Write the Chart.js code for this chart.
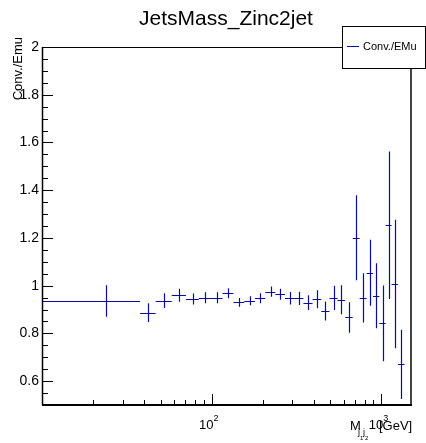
<!DOCTYPE html>
<html>
<head>
<meta charset="utf-8">
<title>JetsMass_Zinc2jet</title>
<script src="https://cdn.jsdelivr.net/npm/chart.js@4.4.1/dist/chart.umd.min.js"></script>
<style>
  html, body { margin: 0; padding: 0; background: #fff; }
  #wrap { width: 426px; height: 443px; }
</style>
</head>
<body>
<div id="wrap"><canvas id="myChart" width="426" height="443"></canvas></div>
<script>
// bin edges of the dijet mass (GeV) and the Conv./EMu ratio per bin
const binEdges = [10, 37.9, 46.8, 58.2, 70.7, 84.1, 99.1, 116, 134.7, 156, 180.3, 207.6, 237.8,
  271, 307, 348, 394, 443.5, 496, 553, 614, 680, 747, 820, 896, 976, 1063, 1153, 1255, 1375];
const ratio = [0.936, 0.887, 0.937, 0.960, 0.944, 0.949, 0.949, 0.968, 0.930, 0.937, 0.947, 0.975,
  0.964, 0.947, 0.947, 0.929, 0.943, 0.894, 0.949, 0.941, 0.867, 1.201, 0.949, 1.054, 0.958,
  0.842, 1.253, 1.007, 0.670];
const ratioErr = [0.066, 0.039, 0.031, 0.027, 0.023, 0.023, 0.023, 0.021, 0.018, 0.019, 0.021,
  0.021, 0.023, 0.026, 0.028, 0.031, 0.038, 0.040, 0.051, 0.061, 0.064, 0.178, 0.103, 0.138,
  0.136, 0.159, 0.309, 0.269, 0.145];

const yTicks = [0.6, 0.8, 1, 1.2, 1.4, 1.6, 1.8, 2];
const yTickLabels = ['0.6', '0.8', '1', '1.2', '1.4', '1.6', '1.8', '2'];
const xTicks = [100, 1000];
const xTickExp = ['2', '3'];

const FONT = '"Liberation Sans", Arial, sans-serif';
const markColor = 'rgb(10,10,160)';

const points = ratio.map((r, i) => ({
  x: (binEdges[i] + binEdges[i + 1]) / 2,
  y: r,
  lo: binEdges[i],
  hi: binEdges[i + 1],
  err: ratioErr[i]
}));

const px = v => Math.round(v) + 0.5;

const rootStyle = {
  id: 'rootStyle',
  afterDatasetsDraw(chart) {
    const { ctx, chartArea: a, scales: { x, y } } = chart;
    ctx.save();
    ctx.beginPath();
    ctx.rect(a.left, a.top, a.right - a.left, a.bottom - a.top);
    ctx.clip();
    ctx.strokeStyle = markColor;
    ctx.lineWidth = 1.2;
    chart.data.datasets[0].data.forEach(p => {
      const yc = px(y.getPixelForValue(p.y));
      const xc = px(x.getPixelForValue(p.x));
      ctx.beginPath();
      ctx.moveTo(x.getPixelForValue(p.lo), yc);
      ctx.lineTo(x.getPixelForValue(p.hi), yc);
      ctx.moveTo(xc, y.getPixelForValue(p.y + p.err));
      ctx.lineTo(xc, y.getPixelForValue(p.y - p.err));
      ctx.stroke();
    });
    ctx.restore();
  },
  afterDraw(chart) {
    const { ctx, chartArea: a, scales: { x, y } } = chart;
    ctx.save();

    // frame: thin top and right, heavier axes left and bottom
    ctx.strokeStyle = '#000';
    ctx.lineWidth = 1;
    ctx.beginPath();
    ctx.moveTo(a.left, px(a.top));
    ctx.lineTo(342, px(a.top));
    ctx.stroke();
    ctx.strokeStyle = '#444';
    ctx.lineWidth = 2;
    ctx.beginPath();
    ctx.moveTo(a.right, 68);
    ctx.lineTo(a.right, a.bottom);
    ctx.stroke();

    ctx.strokeStyle = '#000';
    ctx.lineWidth = 1.5;
    ctx.beginPath();
    ctx.moveTo(a.left + 0.5, a.top);
    ctx.lineTo(a.left + 0.5, a.bottom);
    ctx.stroke();
    ctx.lineWidth = 2;
    ctx.beginPath();
    ctx.moveTo(a.left, a.bottom);
    ctx.lineTo(a.right + 1, a.bottom);
    ctx.stroke();

    // y ticks: major every 0.2, minor every 0.05
    ctx.lineWidth = 1;
    ctx.strokeStyle = '#000';
    ctx.beginPath();
    for (let k = 10; k <= 40; k++) {
      const v = k * 0.05;
      const yy = px(y.getPixelForValue(v));
      const major = k % 4 === 0;
      ctx.moveTo(a.left, yy);
      ctx.lineTo(a.left + (major ? 11 : 6), yy);
    }
    // x ticks (log): major at decades, minor at 2..9
    for (let dec = 10; dec <= 1000; dec *= 10) {
      for (let m = 1; m <= 9; m++) {
        const v = dec * m;
        if (v <= x.min || v >= x.max) continue;
        const xx = px(x.getPixelForValue(v));
        ctx.moveTo(xx, a.bottom);
        ctx.lineTo(xx, a.bottom - (m === 1 ? 11 : 5));
      }
    }
    ctx.stroke();

    // y tick labels
    ctx.fillStyle = '#000';
    ctx.font = '14px ' + FONT;
    ctx.textAlign = 'right';
    ctx.textBaseline = 'middle';
    yTicks.forEach((v, i) => {
      ctx.fillText(yTickLabels[i], 39, y.getPixelForValue(v));
    });

    // x tick labels 10^n
    ctx.textBaseline = 'alphabetic';
    xTicks.forEach((v, i) => {
      const xx = x.getPixelForValue(v);
      ctx.font = '13px ' + FONT;
      ctx.textAlign = 'right';
      ctx.fillText('10', xx + 2, 429);
      ctx.font = '9px ' + FONT;
      ctx.textAlign = 'left';
      ctx.fillText(xTickExp[i], xx + 2, 421);
    });

    // title
    ctx.font = '21px ' + FONT;
    ctx.textAlign = 'center';
    ctx.fillText('JetsMass_Zinc2jet', 226, 25);

    // y axis title
    ctx.save();
    ctx.translate(22, 37);
    ctx.rotate(-Math.PI / 2);
    ctx.font = '13px ' + FONT;
    ctx.textAlign = 'right';
    ctx.fillText('Conv./Emu', 0, 0);
    ctx.restore();

    // x axis title M_{j1 j2} [GeV]
    ctx.textAlign = 'left';
    ctx.font = '13px ' + FONT;
    ctx.fillText('M', 350, 430);
    ctx.font = '9px ' + FONT;
    ctx.fillText('j', 358, 435);
    ctx.fillText('j', 363, 435);
    ctx.font = '6px ' + FONT;
    ctx.fillText('1', 360, 440);
    ctx.fillText('2', 365, 440);
    ctx.font = '13px ' + FONT;
    ctx.fillText('[GeV]', 379, 430);

    // legend box
    ctx.fillStyle = '#fff';
    ctx.fillRect(342, 26, 84, 42);
    ctx.strokeStyle = '#000';
    ctx.lineWidth = 1;
    ctx.strokeRect(342.5, 26.5, 83, 42);
    ctx.strokeStyle = markColor;
    ctx.beginPath();
    ctx.moveTo(347, 46.5);
    ctx.lineTo(359, 46.5);
    ctx.stroke();
    ctx.fillStyle = '#000';
    ctx.font = '11px ' + FONT;
    ctx.textBaseline = 'middle';
    ctx.fillText('Conv./EMu', 363, 47);

    ctx.restore();
  }
};

const myChart = new Chart(document.getElementById('myChart').getContext('2d'), {
  type: 'scatter',
  data: {
    datasets: [{
      label: 'Conv./EMu',
      data: points,
      pointRadius: 0,
      showLine: false,
      borderColor: markColor
    }]
  },
  options: {
    responsive: false,
    animation: false,
    layout: { padding: { left: 42, top: 47, right: 15, bottom: 38 } },
    plugins: { legend: { display: false }, title: { display: false }, tooltip: { enabled: false } },
    scales: {
      x: { type: 'logarithmic', min: 10, max: 1500, display: false },
      y: { type: 'linear', min: 0.5, max: 2, display: false }
    }
  },
  plugins: [rootStyle]
});
</script>
</body>
</html>
